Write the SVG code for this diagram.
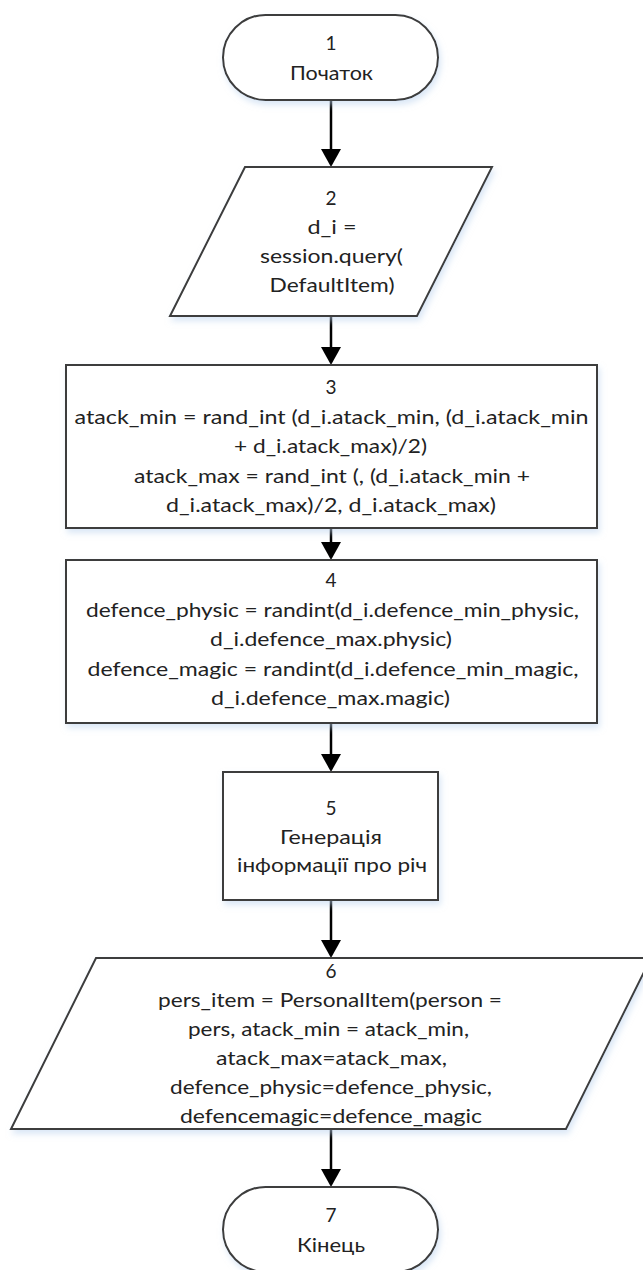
<svg xmlns="http://www.w3.org/2000/svg" width="643" height="1270" viewBox="0 0 643 1270">
  <style>
    .shape { fill: #ffffff; stroke: #3c3c3c; stroke-width: 2; filter: url(#soft); }
    .lbl { font-family: Lato, "Open Sans", "Noto Sans", sans-serif; font-size: 19px; fill: #222222; text-anchor: middle; }
    .flow { stroke: #000000; stroke-width: 2.5; fill: none; marker-end: url(#head); }
  </style>
  <defs>
    <filter id="soft" x="-10%" y="-10%" width="125%" height="135%">
      <feGaussianBlur in="SourceAlpha" stdDeviation="3" result="b"/>
      <feOffset in="b" dx="2" dy="4" result="o"/>
      <feFlood flood-color="#bcd3ee" flood-opacity="0.55"/>
      <feComposite in2="o" operator="in" result="s"/>
      <feMerge>
        <feMergeNode in="s"/>
        <feMergeNode in="SourceGraphic"/>
      </feMerge>
    </filter>
    <marker id="head" markerUnits="userSpaceOnUse" markerWidth="18" markerHeight="20" viewBox="0 0 18 20" refX="8" refY="10" orient="auto">
      <path d="M0,0 L18,10 L0,20 Z" fill="#000000"/>
    </marker>
  </defs>

  <!-- connectors -->
  <g id="connectors">
    <line class="flow" x1="331" y1="100" x2="331" y2="157"/>
    <line class="flow" x1="331" y1="316" x2="331" y2="355"/>
    <line class="flow" x1="331" y1="528" x2="331" y2="550"/>
    <line class="flow" x1="331" y1="723" x2="331" y2="762"/>
    <line class="flow" x1="331" y1="900" x2="331" y2="948"/>
    <line class="flow" x1="331" y1="1129" x2="331" y2="1177"/>
  </g>

  <!-- 1: start -->
  <g id="node1">
    <rect class="shape" x="223" y="15" width="215" height="85" rx="42.5" ry="42.5"/>
    <text class="lbl" x="331" y="50">1</text>
    <text class="lbl" x="331.5" y="79.5" textLength="83" lengthAdjust="spacingAndGlyphs">Початок</text>
  </g>

  <!-- 2: query input -->
  <g id="node2">
    <polygon class="shape" points="245,167 492,167 417,316 170,316"/>
    <text class="lbl" x="331" y="205">2</text>
    <text class="lbl" x="332" y="234" textLength="49" lengthAdjust="spacingAndGlyphs">d_i =</text>
    <text class="lbl" x="331.5" y="263" textLength="143" lengthAdjust="spacingAndGlyphs">session.query(</text>
    <text class="lbl" x="332" y="292" textLength="125" lengthAdjust="spacingAndGlyphs">DefaultItem)</text>
  </g>

  <!-- 3: attack range -->
  <g id="node3">
    <rect class="shape" x="66" y="365" width="531" height="163"/>
    <text class="lbl" x="331" y="394">3</text>
    <text class="lbl" x="331.5" y="423.5" textLength="514" lengthAdjust="spacingAndGlyphs">atack_min = rand_int (d_i.atack_min, (d_i.atack_min</text>
    <text class="lbl" x="330.5" y="453" textLength="193" lengthAdjust="spacingAndGlyphs">+ d_i.atack_max)/2)</text>
    <text class="lbl" x="332" y="482.5" textLength="396" lengthAdjust="spacingAndGlyphs">atack_max = rand_int (, (d_i.atack_min +</text>
    <text class="lbl" x="331" y="512" textLength="330" lengthAdjust="spacingAndGlyphs">d_i.atack_max)/2, d_i.atack_max)</text>
  </g>

  <!-- 4: defence values -->
  <g id="node4">
    <rect class="shape" x="66" y="560" width="531" height="163"/>
    <text class="lbl" x="331" y="587">4</text>
    <text class="lbl" x="332.5" y="616.5" textLength="493" lengthAdjust="spacingAndGlyphs">defence_physic = randint(d_i.defence_min_physic,</text>
    <text class="lbl" x="331" y="646" textLength="242" lengthAdjust="spacingAndGlyphs">d_i.defence_max.physic)</text>
    <text class="lbl" x="333" y="675.5" textLength="491" lengthAdjust="spacingAndGlyphs">defence_magic = randint(d_i.defence_min_magic,</text>
    <text class="lbl" x="330.5" y="705" textLength="239" lengthAdjust="spacingAndGlyphs">d_i.defence_max.magic)</text>
  </g>

  <!-- 5: item info generation -->
  <g id="node5">
    <rect class="shape" x="223" y="772" width="215" height="128"/>
    <text class="lbl" x="331" y="815">5</text>
    <text class="lbl" x="331" y="843.5" textLength="102" lengthAdjust="spacingAndGlyphs">Генерація</text>
    <text class="lbl" x="332" y="872" textLength="190" lengthAdjust="spacingAndGlyphs">інформації про річ</text>
  </g>

  <!-- 6: personal item output -->
  <g id="node6">
    <polygon class="shape" points="96,958 651,958 566,1129 11,1129"/>
    <text class="lbl" x="331" y="978">6</text>
    <text class="lbl" x="330" y="1007" textLength="344" lengthAdjust="spacingAndGlyphs">pers_item = PersonalItem(person =</text>
    <text class="lbl" x="328.5" y="1036" textLength="281" lengthAdjust="spacingAndGlyphs">pers, atack_min = atack_min,</text>
    <text class="lbl" x="331.5" y="1065" textLength="231" lengthAdjust="spacingAndGlyphs">atack_max=atack_max,</text>
    <text class="lbl" x="331" y="1094" textLength="322" lengthAdjust="spacingAndGlyphs">defence_physic=defence_physic,</text>
    <text class="lbl" x="331" y="1123" textLength="302" lengthAdjust="spacingAndGlyphs">defencemagic=defence_magic</text>
  </g>

  <!-- 7: end -->
  <g id="node7">
    <rect class="shape" x="223" y="1187" width="215" height="85" rx="42.5" ry="42.5"/>
    <text class="lbl" x="331" y="1222">7</text>
    <text class="lbl" x="331" y="1252" textLength="68" lengthAdjust="spacingAndGlyphs">Кінець</text>
  </g>
</svg>
